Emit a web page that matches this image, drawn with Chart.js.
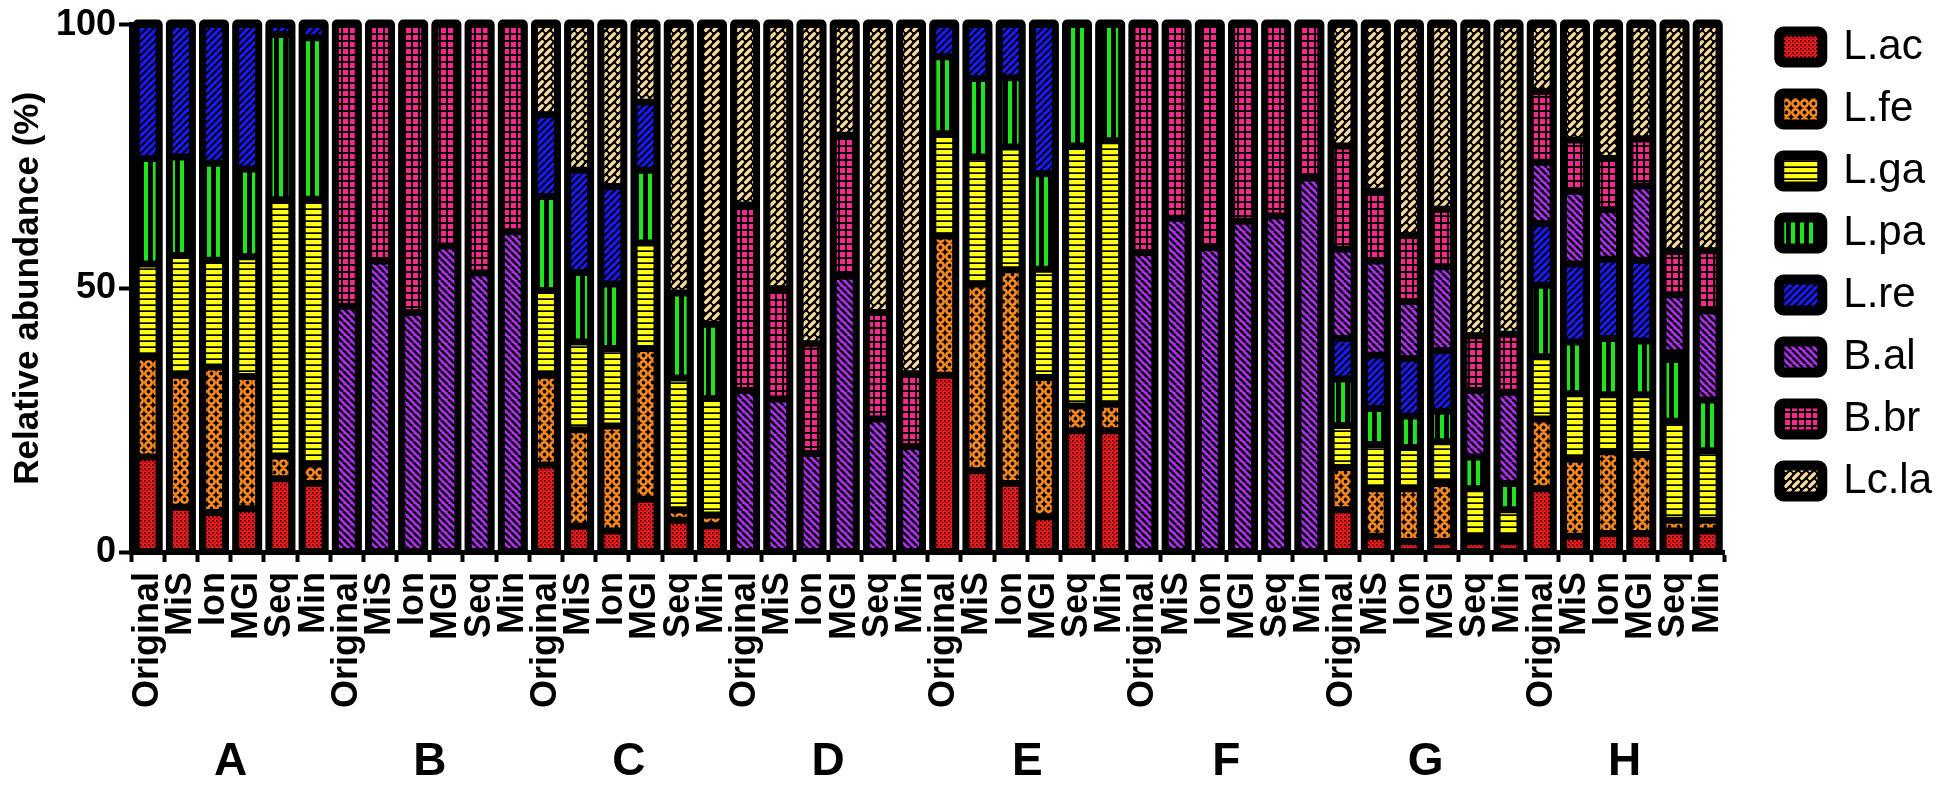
<!DOCTYPE html>
<html>
<head>
<meta charset="utf-8">
<script src="https://cdn.jsdelivr.net/npm/chart.js@4.4.0/dist/chart.umd.min.js"></script>
<style>
  html, body { margin: 0; padding: 0; background: #fff; }
  #wrap { width: 1950px; height: 788px; }
</style>
</head>
<body>
<div id="wrap"><canvas id="grafico"></canvas></div>
<script>
const grupos = ['A', 'B', 'C', 'D', 'E', 'F', 'G', 'H'];
const metodos = ['Original', 'MiS', 'Ion', 'MGI', 'Seq', 'Min'];
const especies = ['L.ac', 'L.fe', 'L.ga', 'L.pa', 'L.re', 'B.al', 'B.br', 'Lc.la'];
const ticksY = [0, 50, 100];

// each array: A..H, and inside each group Original, MiS, Ion, MGI, Seq, Min
const Lac = [
  18, 8.5, 7.5, 8.2, 13.9, 13,
  0, 0, 0, 0, 0, 0,
  16.5, 4.9, 4, 10, 6, 5,
  0, 0, 0, 0, 0, 0,
  33.5, 15.4, 13, 6.7, 23, 23,
  0, 0, 0, 0, 0, 0,
  8, 3, 2, 2, 2, 2,
  12, 3, 3.5, 3.5, 4, 4
];
const Lfe = [
  19, 25, 27.6, 25.1, 4.3, 3.7,
  0, 0, 0, 0, 0, 0,
  17, 18.3, 19.9, 28.6, 2, 2,
  0, 0, 0, 0, 0, 0,
  26.4, 35.4, 40.5, 26.4, 4.7, 5,
  0, 0, 0, 0, 0, 0,
  8, 9, 10, 11, 1, 1,
  13.2, 14.6, 15.5, 15, 2, 2
];
const Lga = [
  17.6, 22.7, 20.2, 22.7, 48.6, 50.2,
  0, 0, 0, 0, 0, 0,
  16.1, 16.6, 14.7, 20, 25, 22.1,
  0, 0, 0, 0, 0, 0,
  19.4, 24.1, 23.3, 20.5, 49.3, 50,
  0, 0, 0, 0, 0, 0,
  8, 8.4, 7.8, 7.9, 9, 5,
  11.8, 12.4, 10.8, 11.3, 18.8, 13.2
];
const Lpa = [
  20, 18.7, 18.4, 16.6, 31.3, 30.6,
  0, 0, 0, 0, 0, 0,
  17.8, 13.2, 12.2, 13.8, 16.1, 14.1,
  0, 0, 0, 0, 0, 0,
  14.6, 14.9, 13.1, 18.1, 23, 22,
  0, 0, 0, 0, 0, 0,
  8.8, 6.8, 6, 5.8, 6, 5,
  13.6, 9.8, 10.7, 10.2, 11.7, 9.6
];
const Lre = [
  25.4, 25.1, 26.3, 27.4, 1.9, 2.5,
  0, 0, 0, 0, 0, 0,
  15.5, 19.4, 18.5, 12.9, 0, 0,
  0, 0, 0, 0, 0, 0,
  6.1, 10.2, 10.1, 28.3, 0, 0,
  0, 0, 0, 0, 0, 0,
  7.7, 10.1, 10.9, 11.5, 0, 0,
  11.7, 14.8, 15, 15.3, 1.3, 0
];
const Bal = [
  0, 0, 0, 0, 0, 0,
  46.6, 55.2, 45.4, 58, 52.9, 60.7,
  0, 0, 0, 0, 0, 0,
  30.6, 29, 18.7, 52.3, 25.2, 20,
  0, 0, 0, 0, 0, 0,
  56.8, 63.3, 57.7, 62.7, 63.7, 70.9,
  16.9, 17.9, 10.8, 15.9, 12.6, 17.3,
  11.6, 13.8, 9.4, 14.1, 11, 16.9
];
const Bbr = [
  0, 0, 0, 0, 0, 0,
  53.4, 44.8, 54.6, 42, 47.1, 39.3,
  0, 0, 0, 0, 0, 0,
  35.2, 20.9, 20.8, 26.7, 20.2, 13.8,
  0, 0, 0, 0, 0, 0,
  43.2, 36.7, 42.3, 37.3, 36.3, 29.1,
  19.6, 13.2, 12.5, 10.9, 10.4, 11,
  13.4, 9.7, 9.7, 8.9, 8.2, 11.4
];
const Lcla = [
  0, 0, 0, 0, 0, 0,
  0, 0, 0, 0, 0, 0,
  17.1, 27.6, 30.7, 14.7, 50.9, 56.8,
  34.2, 50.1, 60.5, 21, 54.6, 66.2,
  0, 0, 0, 0, 0, 0,
  0, 0, 0, 0, 0, 0,
  23, 31.6, 40, 35, 59, 58.7,
  12.7, 21.9, 25.4, 21.7, 43, 42.9
];

const valores = [Lac, Lfe, Lga, Lpa, Lre, Bal, Bbr, Lcla];
const etiquetas = grupos.flatMap(() => metodos);

// little tiles for the hatch fills
function patron(w, h, dibujar) {
  const c = document.createElement('canvas');
  c.width = w; c.height = h;
  const g = c.getContext('2d');
  dibujar(g, w, h);
  return g.createPattern(c, 'repeat');
}
function diagonal(g, s, color, lw, sube) {
  g.strokeStyle = color; g.lineWidth = lw;
  for (const o of [-s, 0, s]) {
    g.beginPath();
    if (sube) { g.moveTo(o, s); g.lineTo(o + s, 0); }
    else { g.moveTo(o, 0); g.lineTo(o + s, s); }
    g.stroke();
  }
}

const patrones = [
  patron(4, 4, g => { g.fillStyle = '#ff1616'; g.fillRect(0, 0, 4, 4); g.fillStyle = '#000'; g.fillRect(0, 0, 1.6, 1.6); g.fillRect(2, 2, 1.2, 1.2); }),
  patron(9, 9, g => { g.fillStyle = '#000'; g.fillRect(0, 0, 9, 9); g.strokeStyle = '#ff8a1c'; g.lineWidth = 2.6; g.beginPath(); g.arc(4.5, 4.5, 3.2, 0, Math.PI * 2); g.stroke(); }),
  patron(4, 6, g => { g.fillStyle = '#ffff14'; g.fillRect(0, 0, 4, 6); g.fillStyle = '#000'; g.fillRect(0, 4.3, 4, 1.7); }),
  patron(9, 4, g => { g.fillStyle = '#000'; g.fillRect(0, 0, 9, 4); g.fillStyle = '#1ee61e'; g.fillRect(0, 0, 4, 4); }),
  patron(7, 7, g => { g.fillStyle = '#1a1aff'; g.fillRect(0, 0, 7, 7); diagonal(g, 7, '#000', 2, true); }),
  patron(7, 7, g => { g.fillStyle = '#b72cff'; g.fillRect(0, 0, 7, 7); diagonal(g, 7, '#000', 2.6, false); }),
  patron(7, 7, g => { g.fillStyle = '#ff2690'; g.fillRect(0, 0, 7, 7); g.fillStyle = '#000'; g.fillRect(5, 0, 2, 7); g.fillRect(0, 5, 7, 2); }),
  patron(8, 8, g => {
    g.fillStyle = '#000'; g.fillRect(0, 0, 8, 8);
    g.strokeStyle = '#f6d89c'; g.lineWidth = 3.4; g.lineCap = 'round';
    g.beginPath(); g.moveTo(1.8, 6.2); g.lineTo(6.2, 1.8); g.stroke();
  })
];

const fondoNegro = {
  id: 'fondoNegro',
  beforeDatasetsDraw(chart) {
    const { ctx, scales: { y } } = chart;
    const meta = chart.getDatasetMeta(0);
    const top = y.getPixelForValue(ticksY[ticksY.length - 1]) - 5;
    const bottom = y.getPixelForValue(0);
    ctx.save();
    ctx.fillStyle = '#000';
    meta.data.forEach(bar => {
      const w = bar.width;
      ctx.beginPath();
      ctx.roundRect(bar.x - w / 2, top, w, bottom - top, [5, 5, 0, 0]);
      ctx.fill();
    });
    ctx.restore();
  }
};

const fuente = '"Liberation Sans", Arial, sans-serif';

new Chart(document.getElementById('grafico'), {
  type: 'bar',
  data: {
    labels: etiquetas,
    datasets: especies.map((nombre, i) => ({
      label: nombre,
      data: valores[i],
      backgroundColor: patrones[i],
      borderColor: '#000',
      borderWidth: { left: 7, right: 7, top: 3.5, bottom: 3.5 },
      borderSkipped: false,
      barPercentage: 0.9,
      categoryPercentage: 1.0
    }))
  },
  options: {
    responsive: true,
    maintainAspectRatio: false,
    animation: false,
    layout: { padding: { left: 1, top: 6, right: 8, bottom: 0 } },
    plugins: {
      tooltip: { enabled: false },
      legend: {
        position: 'right',
        align: 'start',
        labels: {
          color: '#000',
          font: { family: fuente, size: 42 },
          boxWidth: 43,
          boxHeight: 31,
          padding: 20,
          useBorderRadius: true,
          borderRadius: 4,
          generateLabels(chart) {
            const items = Chart.defaults.plugins.legend.labels.generateLabels(chart);
            items.forEach(it => { it.lineWidth = 10; it.strokeStyle = '#000'; it.borderRadius = 4; });
            return items;
          }
        }
      }
    },
    scales: {
      x: {
        stacked: true,
        offset: true,
        grid: { display: true, drawOnChartArea: false, tickLength: 10, tickWidth: 4, tickColor: '#000' },
        border: { display: true, color: '#000', width: 5 },
        ticks: {
          color: '#000',
          font: { family: fuente, size: 36, weight: 'bold' },
          autoSkip: false,
          maxRotation: 90,
          minRotation: 90,
          padding: 10
        },
        afterFit(s) { s.height = 158; }
      },
      grupo: {
        type: 'category',
        labels: grupos,
        position: 'bottom',
        offset: true,
        grid: { display: false },
        border: { display: false },
        ticks: { color: '#000', font: { family: fuente, size: 46, weight: 'bold' }, padding: 17 },
        afterFit(s) { s.height = 78; }
      },
      y: {
        stacked: true,
        min: 0,
        max: 100,
        afterBuildTicks(s) { s.ticks = ticksY.map(v => ({ value: v })); },
        grid: { display: true, drawOnChartArea: false, tickLength: 12, tickWidth: 4, tickColor: '#000' },
        border: { display: true, color: '#000', width: 5 },
        ticks: { color: '#000', font: { family: fuente, size: 36, weight: 'bold' }, padding: 3 },
        title: {
          display: true,
          text: 'Relative abundance (%)',
          color: '#000',
          font: { family: fuente, size: 35, weight: 'bold' },
          padding: { top: 6, bottom: 4 }
        }
      },
      margen: {
        type: 'linear',
        position: 'right',
        grid: { display: false },
        border: { display: false },
        ticks: { display: false },
        afterFit(s) { s.width = 35; }
      }
    }
  },
  plugins: [fondoNegro]
});
</script>
</body>
</html>
